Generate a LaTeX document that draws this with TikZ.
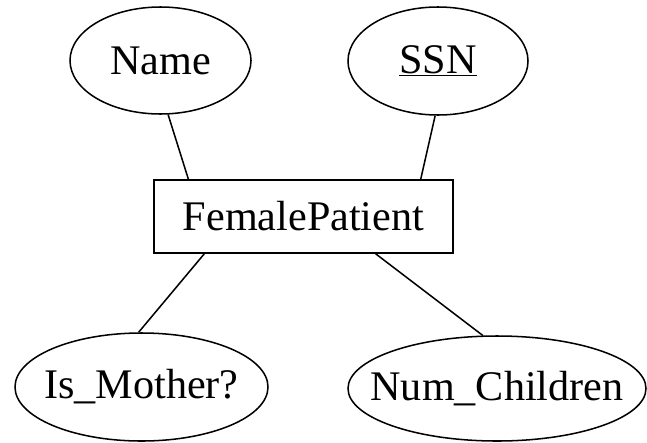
\documentclass[tikz,border=0pt]{standalone}
\usepackage{fontspec}
\setmainfont{Liberation Serif}
\usetikzlibrary{shapes.geometric,calc}
\tikzset{
    attr/.style={
        draw,
        ellipse,
        line width=1.3pt,
        inner sep=0pt
    },
    entity/.style={
        draw,
        rectangle,
        line width=1.3pt,
        minimum width=8.97cm,
        minimum height=2.19cm
    },
    link/.style={
        draw,
        line width=1.3pt
    }
}
\newcommand{\attrname}[1]{\makebox[0pt]{#1}}

\begin{document}
\begin{tikzpicture}[x=0.03cm, y=-0.03cm,
    every node/.style={font=\fontsize{36}{43}\selectfont}]
    \useasboundingbox (0,0) rectangle (647,442);
    % Entity
    \node[entity] (fp) at (303.5,216.5) {FemalePatient};

    % Attributes
    \node[attr, minimum width=5.43cm, minimum height=3.21cm] (name) at (160.5,60.5) {\attrname{Name}};
    \node[attr, minimum width=5.4cm, minimum height=3.24cm] (ssn) at (438,61) {\attrname{\underline{SSN}}};
    \node[attr, minimum width=7.59cm, minimum height=3.24cm] (mother) at (141.5,387) {\attrname{Is\_Mother?}};
    \node[attr, minimum width=8.94cm, minimum height=3.15cm] (kids) at (497,388.5) {\attrname{Num\_Children}};

    % Links
    \draw[link] (name.-82) -- ($(fp.north west)!0.117!(fp.north east)$);
    \draw[link] (ssn.-93) -- ($(fp.north west)!0.89!(fp.north east)$);
    \draw[link] (mother.93) -- ($(fp.south west)!0.17!(fp.south east)$);
    \draw[link] (kids.105) -- ($(fp.south west)!0.74!(fp.south east)$);
\end{tikzpicture}
\end{document}
